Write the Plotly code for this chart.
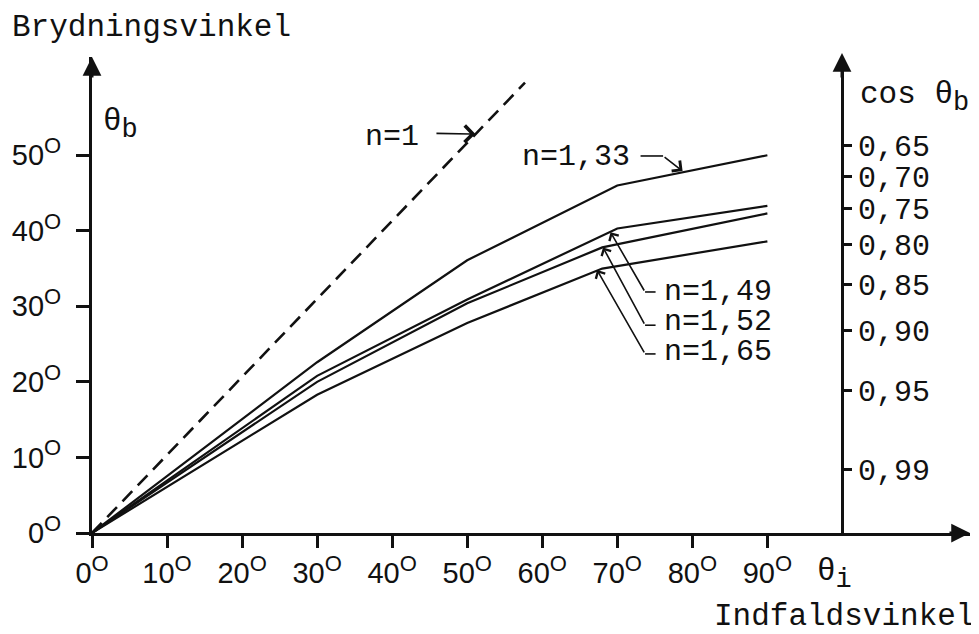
import numpy as np
import plotly.graph_objects as go

# ---------------- data ----------------
incidence_a = [0, 30, 50, 70, 90]          # n=1,33 and n=1,49
incidence_b = [0, 30, 50, 68, 90]          # n=1,52 and n=1,65
refr_133 = [0, 22.6, 36.1, 46.0, 50.0]
refr_149 = [0, 20.8, 30.9, 40.3, 43.3]
refr_152 = [0, 20.0, 30.4, 37.8, 42.3]
refr_165 = [0, 18.3, 27.8, 35.0, 38.6]
incidence_n1 = [0, 57.7]
refr_n1 = [0, 59.6]

deg_ticks = [0, 10, 20, 30, 40, 50]
x_ticks = [0, 10, 20, 30, 40, 50, 60, 70, 80, 90]
cos_ticks = [0.65, 0.70, 0.75, 0.80, 0.85, 0.90, 0.95, 0.99]
cos_labels = ["0,65", "0,70", "0,75", "0,80", "0,85", "0,90", "0,95", "0,99"]

# ---------------- layout geometry ----------------
# the page body adds an 8px margin, so the figure is drawn 8px smaller
OFF = 8
W, H = 979 - OFF, 634 - OFF
X0, X1 = 92, 970           # plot area in page pixels
Y0, Y1 = 57, 533
L, T = X0 - OFF, Y0 - OFF
R, B = W - (X1 - OFF), H - (Y1 - OFF)
XR = [0, 117]
YR = [0, 63]


def px(x):
    return (x - X0) / (X1 - X0)


def py(y):
    return (Y1 - y) / (Y1 - Y0)


MONO = "Liberation Mono"
SANS = "Liberation Sans"
INK = "#111111"
DEG = "<sup><span style='font-size:22px'>O</span></sup>"


def sub(s):
    return f"<sub><span style='font-size:27px'>{s}</span></sub>"


fig = go.Figure()

line_style = dict(color=INK, width=2.2)
fig.add_trace(go.Scatter(x=incidence_n1, y=refr_n1, mode="lines",
                         line=dict(color=INK, width=2.6, dash="14px,8px"),
                         name="n=1", showlegend=False, hoverinfo="skip"))
fig.add_trace(go.Scatter(x=incidence_a, y=refr_133, mode="lines", line=line_style,
                         name="n=1,33", showlegend=False))
fig.add_trace(go.Scatter(x=incidence_a, y=refr_149, mode="lines", line=line_style,
                         name="n=1,49", showlegend=False))
fig.add_trace(go.Scatter(x=incidence_b, y=refr_152, mode="lines", line=line_style,
                         name="n=1,52", showlegend=False))
fig.add_trace(go.Scatter(x=incidence_b, y=refr_165, mode="lines", line=line_style,
                         name="n=1,65", showlegend=False))

# invisible trace to activate right axis
cos_deg = [float(np.degrees(np.arccos(c))) for c in cos_ticks]
fig.add_trace(go.Scatter(x=[None], y=[None], yaxis="y2", showlegend=False))

fig.update_layout(
    width=W, height=H,
    margin=dict(l=L, r=R, t=T, b=B, autoexpand=False),
    paper_bgcolor="white", plot_bgcolor="white",
    showlegend=False,
    xaxis=dict(range=XR, showgrid=False, zeroline=False,
               showline=True, linewidth=3, linecolor=INK,
               ticks="outside", ticklen=12, tickwidth=3, tickcolor=INK,
               tickvals=x_ticks,
               ticktext=[f"{v}{DEG}" for v in x_ticks],
               tickfont=dict(family=SANS, size=29, color=INK)),
    yaxis=dict(range=YR, showgrid=False, zeroline=False,
               showline=True, linewidth=3, linecolor=INK,
               ticks="outside", ticklen=13, tickwidth=3, tickcolor=INK,
               ticklabelstandoff=9,
               tickvals=deg_ticks,
               ticktext=[f"{v}{DEG}" for v in deg_ticks],
               tickfont=dict(family=SANS, size=29, color=INK)),
    yaxis2=dict(range=[0, 60.8], overlaying="y", anchor="free",
                position=px(842), side="right",
                showgrid=False, zeroline=False,
                showline=True, linewidth=3, linecolor=INK,
                ticks="outside", ticklen=8, tickwidth=2.5, tickcolor=INK,
                tickvals=cos_deg, ticktext=cos_labels,
                tickfont=dict(family=MONO, size=30, color=INK)),
)

ann = []
# axis arrowheads
ann.append(dict(x=0, y=1, xref="paper", yref="paper", ax=0, ay=22, text="",
                showarrow=True, arrowhead=2, arrowsize=1.25, arrowwidth=3, arrowcolor=INK))
ann.append(dict(x=1, y=0, xref="paper", yref="paper", ax=-22, ay=0, text="",
                showarrow=True, arrowhead=2, arrowsize=1.25, arrowwidth=3, arrowcolor=INK))
ann.append(dict(x=px(842), y=py(53), xref="paper", yref="paper", ax=0, ay=26, text="",
                showarrow=True, arrowhead=2, arrowsize=1.25, arrowwidth=3, arrowcolor=INK))

# axis titles
big = dict(family=MONO, size=31, color=INK)
ann.append(dict(x=px(10), y=py(28), xref="paper", yref="paper", xanchor="left", yanchor="middle",
                text="Brydningsvinkel", showarrow=False, font=big))
ann.append(dict(x=px(976), y=py(616), xref="paper", yref="paper", xanchor="right", yanchor="middle",
                text="Indfaldsvinkel", showarrow=False, font=big))
ann.append(dict(x=px(101), y=py(124), xref="paper", yref="paper", xanchor="left", yanchor="middle",
                text="θ" + sub("b"), showarrow=False, font=big))
ann.append(dict(x=px(858), y=py(97), xref="paper", yref="paper", xanchor="left", yanchor="middle",
                text="cos θ" + sub("b"), showarrow=False, font=big))
ann.append(dict(x=px(815), y=py(574), xref="paper", yref="paper", xanchor="left", yanchor="middle",
                text="θ" + sub("i"), showarrow=False, font=big))

# curve labels
lab = dict(family=MONO, size=30, color=INK)
ann.append(dict(x=43.9, y=52.4, xanchor="right", yanchor="middle", text="n=1",
                showarrow=False, font=lab))
ann.append(dict(x=72.0, y=49.7, xanchor="right", yanchor="middle", text="n=1,33",
                showarrow=False, font=lab))
ann.append(dict(x=75.9, y=31.9, xanchor="left", yanchor="middle", text="n=1,49",
                showarrow=False, font=lab))
ann.append(dict(x=75.9, y=27.9, xanchor="left", yanchor="middle", text="n=1,52",
                showarrow=False, font=lab))
ann.append(dict(x=75.9, y=23.9, xanchor="left", yanchor="middle", text="n=1,65",
                showarrow=False, font=lab))

# leader arrows
lead = dict(showarrow=True, arrowhead=4, arrowwidth=1.6, arrowcolor=INK,
            axref="x", ayref="y", text="")
ann.append(dict(x=51.1, y=52.8, ax=45.7, ay=52.9, arrowsize=2.0, **lead))
ann.append(dict(x=78.7, y=47.9, ax=76.1, ay=49.9, arrowsize=1.6, **lead))
ann.append(dict(x=69.1, y=39.8, ax=73.7, ay=31.9, arrowsize=1.3, **lead))
ann.append(dict(x=68.1, y=37.8, ax=73.7, ay=27.5, arrowsize=1.3, **lead))
ann.append(dict(x=67.3, y=34.8, ax=73.7, ay=23.7, arrowsize=1.3, **lead))
fig.update_layout(annotations=ann)

stub = dict(type="line", xref="x", yref="y", line=dict(color=INK, width=1.6))
fig.update_layout(shapes=[
    dict(x0=73.1, x1=76.1, y0=49.9, y1=49.9, **stub),
    dict(x0=73.7, x1=75.1, y0=31.9, y1=31.9, **stub),
    dict(x0=73.7, x1=75.1, y0=27.5, y1=27.5, **stub),
    dict(x0=73.7, x1=75.1, y0=23.7, y1=23.7, **stub),
])

fig.write_html("out.html")
